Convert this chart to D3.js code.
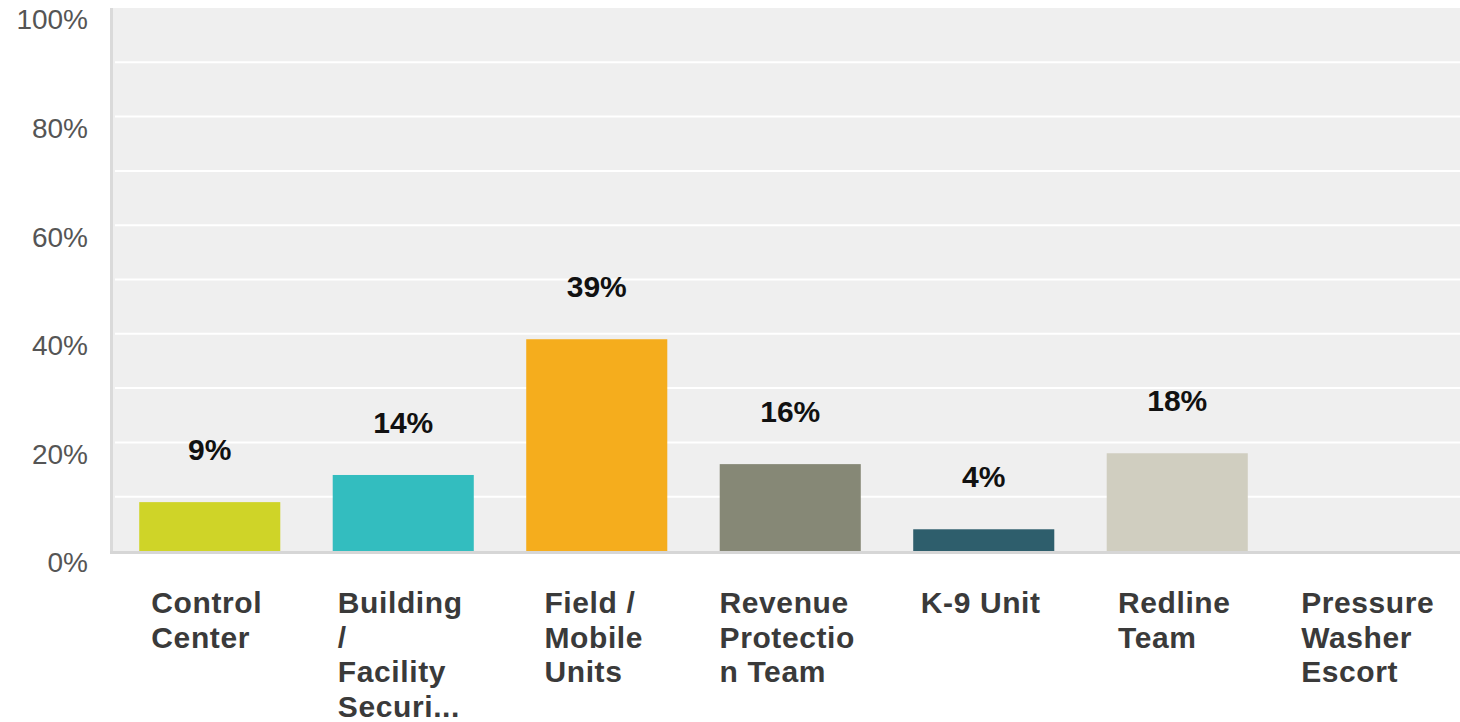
<!DOCTYPE html>
<html>
<head>
<meta charset="utf-8">
<script src="https://cdn.jsdelivr.net/npm/d3@7"></script>
<style>
  html, body { margin: 0; padding: 0; background: #ffffff; }
  svg { display: block; }
</style>
</head>
<body>
<svg id="chart" width="1460" height="722"></svg>
<script>
// Survey answer shares per unit
const categories = [
  "Control Center",
  "Building / Facility Securi...",
  "Field / Mobile Units",
  "Revenue Protection Team",
  "K-9 Unit",
  "Redline Team",
  "Pressure Washer Escort"
];
// Wrapped axis label lines, one array per category
const categoryLines = [
  ["Control", "Center"],
  ["Building", "/", "Facility", "Securi..."],
  ["Field /", "Mobile", "Units"],
  ["Revenue", "Protectio", "n Team"],
  ["K-9 Unit"],
  ["Redline", "Team"],
  ["Pressure", "Washer", "Escort"]
];
const values = [9, 14, 39, 16, 4, 18, null];
const barColors = ["#cfd428", "#33bdbf", "#f5ad1d", "#868876", "#2e5e6c", "#d0cec0", "#c8c8c8"];
const yTicks = [0, 20, 40, 60, 80, 100];
const gridTicks = [10, 20, 30, 40, 50, 60, 70, 80, 90];

const svg = d3.select("#chart");
const plot = { left: 113, right: 1460, top: 8, bottom: 551 };

const x = d3.scaleBand()
  .domain(categories)
  .range([plot.left, plot.left + 7 * 193.5])
  .paddingInner(0.271)
  .paddingOuter(0.1355);

const y = d3.scaleLinear().domain([0, 100]).range([plot.bottom, plot.top]);

const font = "'Liberation Sans', Arial, Helvetica, sans-serif";

// plot background
svg.append("rect")
  .attr("x", plot.left).attr("y", plot.top)
  .attr("width", plot.right - plot.left).attr("height", plot.bottom - plot.top)
  .attr("fill", "#efefef");

// horizontal gridlines
svg.append("g").selectAll("line").data(gridTicks).join("line")
  .attr("x1", plot.left + 2).attr("x2", plot.right)
  .attr("y1", d => y(d)).attr("y2", d => y(d))
  .attr("stroke", "#ffffff").attr("stroke-width", 2);

// left and bottom axis lines
svg.append("line")
  .attr("x1", 111.5).attr("x2", 111.5)
  .attr("y1", plot.top).attr("y2", plot.bottom + 3)
  .attr("stroke", "#dadada").attr("stroke-width", 3);
svg.append("line")
  .attr("x1", 110).attr("x2", plot.right)
  .attr("y1", plot.bottom + 1.5).attr("y2", plot.bottom + 1.5)
  .attr("stroke", "#d6d6d6").attr("stroke-width", 3);

// y tick labels
const yAxis = d3.axisLeft(y).tickValues(yTicks).tickFormat(d => d + "%").tickSize(0).tickPadding(0);
const yg = svg.append("g").attr("transform", "translate(88,0)").call(yAxis);
yg.select(".domain").remove();
yg.selectAll("text")
  .attr("dy", "0.32em")
  .attr("y", 12)
  .attr("fill", "#555555")
  .style("font-family", font)
  .style("font-size", "28px");

// bars
const data = categories.map((c, i) => ({ c, v: values[i], color: barColors[i], lines: categoryLines[i] }));
svg.append("g").selectAll("rect").data(data.filter(d => d.v != null)).join("rect")
  .attr("x", d => x(d.c))
  .attr("width", x.bandwidth())
  .attr("y", d => y(d.v))
  .attr("height", d => y(0) - y(d.v))
  .attr("fill", d => d.color);

// value labels
svg.append("g").selectAll("text").data(data.filter(d => d.v != null)).join("text")
  .attr("x", d => x(d.c) + x.bandwidth() / 2)
  .attr("y", d => y(d.v) - 42)
  .attr("text-anchor", "middle")
  .attr("fill", "#111111")
  .style("font-family", font)
  .style("font-size", "30px")
  .style("font-weight", "bold")
  .text(d => d.v + "%");

// category labels: left-aligned block centred under each bar
const catG = svg.append("g");
data.forEach(d => {
  const t = catG.append("text")
    .attr("fill", "#3a3a3a")
    .style("font-family", font)
    .style("font-size", "30px")
    .style("font-weight", "bold")
    .style("letter-spacing", "0.6px");
  d.lines.forEach((ln, k) => {
    t.append("tspan").attr("x", 0).attr("y", 613 + k * 34.7).text(ln);
  });
  const w = t.node().getBBox().width;
  const cx = x(d.c) + x.bandwidth() / 2;
  t.attr("transform", `translate(${cx - w / 2 - 3},0)`);
});
</script>
</body>
</html>
